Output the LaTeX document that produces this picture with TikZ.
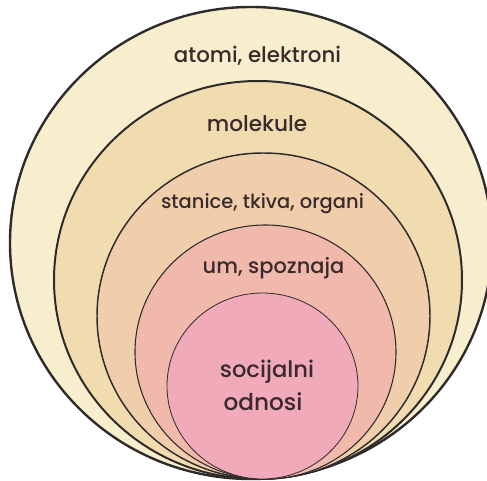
\documentclass[tikz,border=0pt]{standalone}
\usepackage{fontspec}
\setmainfont{Poppins Medium}
\usepackage{tikz}
\usetikzlibrary{positioning}

\definecolor{ringline}{HTML}{2F2B2B}
\definecolor{labeltext}{HTML}{3A2A2C}
\definecolor{atomfill}{HTML}{F7EECD}
\definecolor{molfill}{HTML}{F1DCB0}
\definecolor{cellfill}{HTML}{F0CEAC}
\definecolor{mindfill}{HTML}{F0B9AB}
\definecolor{socfill}{HTML}{F0AABA}

\begin{document}
\begin{tikzpicture}[x=0.75pt, y=-0.75pt]
        \tikzstyle{ring}=[draw=ringline]
        \tikzstyle{every node}=[text=labeltext, inner sep=0pt, anchor=base]
        \useasboundingbox (0,0) rectangle (487,481);
        \clip (0,0) rectangle (487,481);

        % rings, outside in
        \filldraw[ring, fill=atomfill, line width=1.8pt] (251,243) ellipse [x radius=241, y radius=236];
        \filldraw[ring, fill=molfill, line width=1.5pt]  (258,280) ellipse [x radius=204, y radius=199];
        \filldraw[ring, fill=cellfill, line width=1.1pt] (263.5,316) ellipse [x radius=166.5, y radius=163];
        \filldraw[ring, fill=mindfill, line width=0.8pt] (265.5,352) ellipse [x radius=130.5, y radius=127];
        \filldraw[ring, fill=socfill, line width=0.6pt]  (262.5,386) ellipse [x radius=95.5, y radius=93];

        % labels
        \node[font=\fontsize{16}{19}\selectfont]   (atomi)     at (257.5,63) {atomi, elektroni};
        \node[font=\fontsize{16.2}{19}\selectfont] (molekule)  at (257,132)  {molekule};
        \node[font=\fontsize{14.6}{18}\selectfont] (stanice)   at (262.5,209) {stanice, tkiva, organi};
        \node[font=\fontsize{15.7}{19}\selectfont] (um)        at (273.5,274) {um, spoznaja};
        \node[font=\fontsize{17}{20}\selectfont]   (socijalni) at (267,378)  {socijalni};
        \node[font=\fontsize{17.4}{20}\selectfont] (odnosi)    at (263,411)  {odnosi};
\end{tikzpicture}
\end{document}
